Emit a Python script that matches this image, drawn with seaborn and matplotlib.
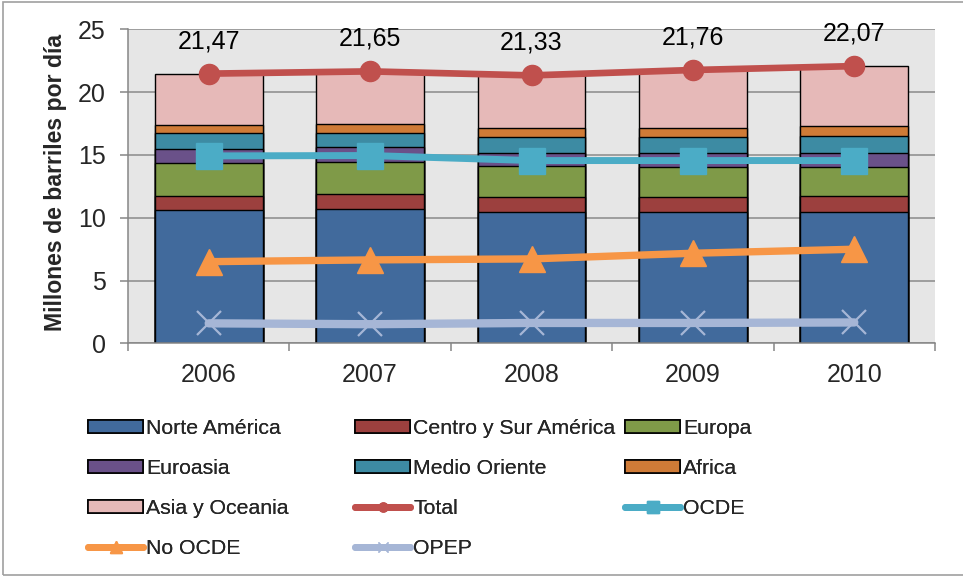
import numpy as np
import pandas as pd
import matplotlib
matplotlib.use("Agg")
import matplotlib.pyplot as plt
import seaborn as sns
from matplotlib.patches import Patch, Rectangle
from matplotlib.lines import Line2D

# Consumo de petróleo por región (millones de barriles por día)
years = ["2006", "2007", "2008", "2009", "2010"]
norte_america = [10.60, 10.70, 10.46, 10.46, 10.46]
centro_sur_america = [1.14, 1.17, 1.17, 1.17, 1.28]
europa = [2.65, 2.58, 2.50, 2.44, 2.33]
euroasia = [1.07, 1.14, 1.01, 1.07, 1.12]
medio_oriente = [1.27, 1.19, 1.27, 1.27, 1.33]
africa = [0.66, 0.67, 0.72, 0.77, 0.79]
asia_oceania = [4.08, 4.20, 4.20, 4.58, 4.76]
total = [21.47, 21.65, 21.33, 21.76, 22.07]
ocde = [14.92, 14.95, 14.55, 14.55, 14.55]
no_ocde = [6.50, 6.64, 6.72, 7.17, 7.49]
opep = [1.59, 1.52, 1.62, 1.62, 1.66]

region_names = ["Norte América", "Centro y Sur América", "Europa", "Euroasia",
                "Medio Oriente", "Africa", "Asia y Oceania"]
region_values = [norte_america, centro_sur_america, europa, euroasia,
                 medio_oriente, africa, asia_oceania]
region_colors = ["#416A9C", "#9C403E", "#7F9A48", "#6A5189",
                 "#3D8BA3", "#CF7B37", "#E6B9B8"]

line_names = ["Total", "OCDE", "No OCDE", "OPEP"]
line_values = [total, ocde, no_ocde, opep]
line_colors = ["#C0504D", "#4BACC6", "#F79646", "#A6B6D6"]
line_markers = ["o", "s", "^", "x"]
line_msize = [14.5, 18.5, 18.5, 17]
line_width = [4.8, 5.0, 5.3, 6.0]

sns.set_theme(style="white", rc={"axes.facecolor": "#E6E6E6"})
plt.rcParams["font.family"] = ["Liberation Sans", "DejaVu Sans"]

fig = plt.figure(figsize=(9.63, 5.77), dpi=100)
ax = fig.add_axes([128 / 963, 1 - 343.3 / 577, (935 - 128) / 963, (343.3 - 29.3) / 577])

# stacked bars: draw cumulative heights from the top layer down
stack = pd.DataFrame(dict(zip(region_names, region_values)), index=years)
cumulative = stack.cumsum(axis=1)
for name, color in reversed(list(zip(region_names, region_colors))):
    sns.barplot(x=years, y=cumulative[name].values, color=color, saturation=1,
                width=0.667, edgecolor="black", linewidth=1.0, errorbar=None,
                ax=ax, zorder=2)

for name, vals, color, mk, ms, lw in zip(line_names, line_values, line_colors,
                                         line_markers, line_msize, line_width):
    sns.lineplot(x=years, y=vals, color=color, marker=mk, markersize=ms,
                 linewidth=lw, mfc=color, mec=color,
                 mew=(1.6 if mk == "x" else 1), ax=ax, zorder=3)

# value labels over the total series
for i, v in enumerate(total):
    ax.annotate(f"{v:.2f}".replace(".", ","), xy=(i, v), xytext=(0, 18.4),
                textcoords="offset points", ha="center", va="baseline",
                fontsize=18, color="black")

ax.set_xlim(-0.5, 4.5)
ax.set_ylim(0, 25)
ax.set_yticks([0, 5, 10, 15, 20, 25])
ax.yaxis.grid(True, color="#8A8A8A", linewidth=1.1)
ax.xaxis.grid(False)
ax.set_axisbelow(True)
for s in ["top", "right"]:
    ax.spines[s].set_visible(False)
for s in ["left", "bottom"]:
    ax.spines[s].set_color("#868686")
    ax.spines[s].set_linewidth(1.1)

ax.set_xticks(range(len(years)))
ax.set_xticklabels(years)
ax.set_xticks(np.arange(-0.5, 5, 1.0), minor=True)
ax.tick_params(axis="x", which="major", length=0, pad=14, labelsize=18)
ax.tick_params(axis="x", which="minor", length=6, width=1.1, color="#868686",
               direction="out", bottom=True)
ax.tick_params(axis="y", length=6, width=1.1, color="#868686", direction="out",
               left=True, pad=10, labelsize=18)

ax.set_xlabel("")
ax.set_ylabel("Millones de barriles por día", fontsize=16.6, fontweight="bold")
ax.yaxis.set_label_coords(-0.0756, 0.512)

# legend, three fixed columns
patch_handles = [Patch(facecolor=c, edgecolor="black", linewidth=1.2, label=n)
                 for n, c in zip(region_names, region_colors)]
line_handles = [Line2D([0], [0], color=c, marker=m, markersize=ms * 0.45,
                       linewidth=5, mfc=c, mec=c, label=n)
                for n, c, m, ms in zip(line_names, line_colors, line_markers, line_msize)]
h = patch_handles + line_handles
columns = [[h[0], h[3], h[6], h[9]], [h[1], h[4], h[7], h[10]], [h[2], h[5], h[8]]]
col_x = [88, 355, 625]
for handles, x0 in zip(columns, col_x):
    leg = fig.legend(handles=handles, loc="upper left",
                     bbox_to_anchor=(x0 / 963, 1 - 419 / 577),
                     frameon=False, fontsize=15.3, borderpad=0, borderaxespad=0,
                     handlelength=2.6, handleheight=0.6, handletextpad=0.15,
                     labelspacing=0.99)
    fig.add_artist(leg)

# outer chart border
fig.add_artist(Rectangle((3 / 963, 2 / 577), 1.0, 573 / 577, transform=fig.transFigure,
                         fill=False, edgecolor="#A0A0A0", linewidth=1.2))

fig.savefig("out.png", dpi=100)
